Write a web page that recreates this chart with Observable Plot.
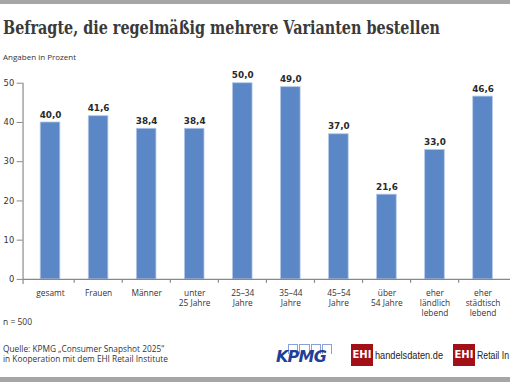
<!DOCTYPE html>
<html><head><meta charset="utf-8">
<script src="https://cdn.jsdelivr.net/npm/d3@7"></script>
<script src="https://cdn.jsdelivr.net/npm/@observablehq/plot@0.6"></script>
<style>
html,body{margin:0;padding:0;background:#fff;}
body{width:510px;height:382px;overflow:hidden;position:relative;font-family:"Open Sans",sans-serif;color:#333;}
.bar{position:absolute;left:0;width:510px;background:#a6a6a6;}
#title{position:absolute;left:3px;top:17px;font-family:"DejaVu Serif",serif;font-weight:bold;font-size:18px;color:#3a3a3a;white-space:nowrap;transform-origin:0 0;}
#sub{position:absolute;left:3px;top:51px;font-size:8px;color:#333;}
#chart{position:absolute;left:0;top:70px;}
#n{position:absolute;left:3px;top:316px;font-size:8.5px;color:#333;}
#src{position:absolute;left:3px;top:344px;font-size:8.3px;line-height:9.5px;color:#333;}
.logo{position:absolute;}
.fit{transform-origin:0 0;white-space:nowrap;}
</style></head>
<body>
<div class="bar" style="top:0;height:4px"></div>
<div id="title">Befragte, die regelmäßig mehrere Varianten bestellen</div>
<div id="sub">Angaben in Prozent</div>
<div id="chart"></div>
<div id="n">n = 500</div>
<div id="src">Quelle: KPMG „Consumer Snapshot 2025“<br>in Kooperation mit dem EHI Retail Institute</div>
<div class="logo" style="left:288px;top:344px;width:44px;height:10px;display:flex;gap:1px">
  <div style="flex:1;border:1px solid #8aa0d8;border-bottom:none"></div>
  <div style="flex:1;border:1px solid #8aa0d8;border-bottom:none"></div>
  <div style="flex:1;border:1px solid #8aa0d8;border-bottom:none"></div>
  <div style="flex:1;border:1px solid #8aa0d8;border-bottom:none"></div>
</div>
<div class="logo" style="left:276px;top:347px;font-family:'DejaVu Sans',sans-serif;font-weight:bold;font-style:italic;font-size:16px;color:#1f3f98;letter-spacing:-0.8px">KPMG</div>
<div class="logo" style="left:351px;top:344px;width:22px;height:22px;background:#a30f16;color:#fff;font-family:'DejaVu Sans',sans-serif;font-weight:bold;font-size:10px;line-height:22px;text-align:center">EHI</div>
<div class="logo fit" id="hd" data-w="68" style="left:375px;top:349px;font-family:'Liberation Sans',sans-serif;font-size:11px;color:#222">handelsdaten<span style="color:#c0101a">.</span>de</div>
<div class="logo" style="left:453px;top:344px;width:22px;height:22px;background:#a30f16;color:#fff;font-family:'DejaVu Sans',sans-serif;font-weight:bold;font-size:10px;line-height:22px;text-align:center">EHI</div>
<div class="logo fit" id="ri" data-w="32" style="left:477px;top:349px;font-family:'Liberation Sans',sans-serif;font-size:11px;color:#222">Retail In</div>
<div class="bar" style="top:377px;height:5px"></div>
<script>
const categories = ["gesamt","Frauen","Männer","unter 25 Jahre","25–34 Jahre","35–44 Jahre","45–54 Jahre","über 54 Jahre","eher ländlich lebend","eher städtisch lebend"];
const tickLabels = ["gesamt","Frauen","Männer","unter\n25 Jahre","25–34\nJahre","35–44\nJahre","45–54\nJahre","über\n54 Jahre","eher\nländlich\nlebend","eher\nstädtisch\nlebend"];
const values = [40.0, 41.6, 38.4, 38.4, 50.0, 49.0, 37.0, 21.6, 33.0, 46.6];
const yTicks = [0, 10, 20, 30, 40, 50];

// fit header/logo texts to the reference's widths
const t = document.getElementById("title");
t.style.transform = `scaleX(${437 / t.getBoundingClientRect().width})`;
for (const el of document.querySelectorAll(".fit")) {
  const w = +el.dataset.w;
  el.style.transform = `scaleX(${w / el.getBoundingClientRect().width})`;
}

const data = categories.map((c, i) => ({category: c, value: values[i], label: tickLabels[i]}));
const fmt = v => v.toFixed(1).replace(".", ",");

const W = 520, ML = 23, MR = 0;
const step = (W - ML - MR) / categories.length;

const chart = Plot.plot({
  width: W, height: 260,
  marginLeft: ML, marginRight: MR, marginTop: 13, marginBottom: 47,
  style: {fontFamily: "DejaVu Sans, sans-serif", fontSize: "8.5px", color: "#333", overflow: "visible"},
  x: {domain: categories, paddingInner: 0.6, paddingOuter: 0.3, axis: null, label: null},
  y: {domain: [0, 50], axis: null, label: null},
  marks: [
    Plot.barY(data, {x: "category", y: "value", fill: "#5b87c7", stroke: "#b4c9e8", strokeWidth: 0.8}),
    Plot.text(data, {x: "category", y: "value", text: d => fmt(d.value), dy: -5, lineAnchor: "bottom", fontWeight: "bold", fontSize: 9, fill: "#2a2a2a"}),
    Plot.ruleY([0], {stroke: "#888", strokeWidth: 1.2}),
    Plot.frame({anchor: "left", stroke: "#888", strokeWidth: 1.2, insetBottom: -4}),
    Plot.ruleX(categories.slice(1), {x: d => d, dx: -step / 2, y1: 0, y2: 0, insetBottom: -4, stroke: "#888", strokeWidth: 1.2}),
    Plot.axisY({ticks: yTicks, tickSize: 6, tickPadding: 3, stroke: "#888", fill: "#333", fontSize: 8.5, tickFormat: d => d, label: null}),
    Plot.axisX({tickSize: 0, tickPadding: 10, tickFormat: d => tickLabels[categories.indexOf(d)], fontFamily: "Open Sans, sans-serif", fontSize: 8.5, fill: "#333", lineHeight: 1.18, label: null})
  ]
});
document.getElementById("chart").appendChild(chart);
</script>
</body></html>
